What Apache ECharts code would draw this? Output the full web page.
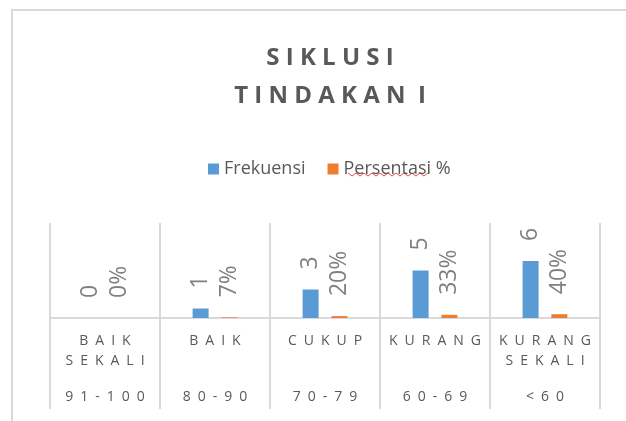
<!DOCTYPE html>
<html>
<head>
<meta charset="utf-8">
<script src="https://cdn.jsdelivr.net/npm/echarts@6/dist/echarts.min.js"></script>
<style>
  html, body { margin: 0; padding: 0; background: #fff; }
  #chart { width: 626px; height: 421px; }
</style>
</head>
<body>
<div id="chart"></div>
<script>
// data
var kategori = ['BAIK SEKALI', 'BAIK', 'CUKUP', 'KURANG', 'KURANG SEKALI'];
var rentang = ['91-100', '80-90', '70-79', '60-69', '<60'];
var frekuensi = [0, 1, 3, 5, 6];
var persentasi = [0, 0.07, 0.2, 0.33, 0.4];

var FONT = '"Open Sans", "Liberation Sans", sans-serif';
var GRIS = '#d9d9d9';

// wide letter spacing like the original
function spaced(s) {
    return s.split('').join('\u2002');
}

// one word of the category name per label row
function word(idx) {
    return function (v) {
        var w = v.split(' ')[idx];
        return w ? spaced(w) : '';
    };
}

// label row below the axis (no line, no ticks)
function rowAxis(data, margin, formatter) {
    return {
        type: 'category',
        data: data,
        position: 'bottom',
        offset: 0,
        axisLine: { show: false },
        axisTick: { show: false },
        splitLine: { show: false },
        axisLabel: {
            interval: 0,
            margin: margin,
            fontFamily: FONT,
            fontSize: 14,
            color: '#595959',
            formatter: formatter
        }
    };
}

// red spellcheck wave under "Persentasi"
var wave = [];
for (var i = 0; i <= 20; i++) {
    wave.push([348 + i * 4, i % 2 == 0 ? 173 : 176]);
}

var chart = echarts.init(document.getElementById('chart'));

var option = {
    backgroundColor: '#fff',
    animation: false,
    title: {
        text: 'S I K L U S I\nT I N D A K A N  I',
        left: 325,
        textAlign: 'center',
        top: 34,
        textStyle: {
            fontFamily: FONT,
            fontSize: 24,
            fontWeight: 'bold',
            color: '#595959',
            lineHeight: 38
        }
    },
    legend: {
        data: ['Frekuensi', 'Persentasi %'],
        left: 203,
        top: 155,
        icon: 'rect',
        itemWidth: 11,
        itemHeight: 11,
        itemGap: 22,
        textStyle: { fontFamily: FONT, fontSize: 18, color: '#595959' }
    },
    grid: { left: 50, right: 26, top: 223, bottom: 103, containLabel: false },
    xAxis: [{
        type: 'category',
        data: kategori,
        position: 'bottom',
        axisLine: { lineStyle: { color: GRIS, width: 2 } },
        axisTick: { show: true, interval: 0, length: 91, lineStyle: { color: GRIS, width: 2 } },
        splitLine: { show: true, interval: 0, lineStyle: { color: GRIS, width: 2 } },
        axisLabel: {
            interval: 0,
            margin: 16,
            fontFamily: FONT,
            fontSize: 14,
            color: '#595959',
            formatter: word(0)
        }
    },
        rowAxis(kategori, 36, word(1)),
        rowAxis(rentang, 72, spaced)
    ],
    yAxis: {
        type: 'value',
        min: 0,
        max: 10,
        show: false
    },
    series: [{
        name: 'Frekuensi',
        type: 'bar',
        data: frekuensi,
        barWidth: 16,
        barGap: '80%',
        itemStyle: { color: '#5b9bd5' },
        label: {
            show: true,
            position: 'top',
            rotate: 90,
            align: 'left',
            verticalAlign: 'middle',
            distance: 20,
            fontFamily: FONT,
            fontSize: 23,
            color: '#808080'
        }
    }, {
        name: 'Persentasi %',
        type: 'bar',
        data: persentasi,
        barWidth: 16,
        itemStyle: { color: '#ed7d31' },
        label: {
            show: true,
            position: 'top',
            rotate: 90,
            align: 'left',
            verticalAlign: 'middle',
            distance: 20,
            fontFamily: FONT,
            fontSize: 23,
            color: '#808080',
            formatter: function (p) {
                return Math.round(p.value * 100) + '%';
            }
        }
    }],
    graphic: [{
        type: 'rect',
        shape: { x: 12, y: 10, width: 700, height: 500 },
        style: { fill: 'none', stroke: GRIS, lineWidth: 2 },
        z: -1
    }, {
        type: 'polyline',
        shape: { points: wave },
        style: { stroke: '#e84c4c', lineWidth: 1, fill: 'none' }
    }]
};

chart.setOption(option);
</script>
</body>
</html>
